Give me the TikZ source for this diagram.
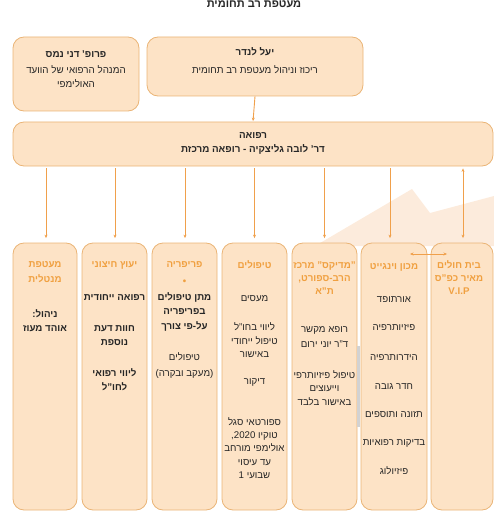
\documentclass[tikz,border=0pt]{standalone}
\usepackage{fontspec}
\setmainfont[Script=Hebrew]{Liberation Sans}
\TeXXeTstate=1
\usetikzlibrary{arrows.meta}
\definecolor{boxfill}{HTML}{FDE3C6}
\definecolor{boxline}{HTML}{EAB476}
\definecolor{arr}{HTML}{F0A04B}
\definecolor{head}{HTML}{F0A040}
\definecolor{txt}{HTML}{262626}
\definecolor{bgshape}{HTML}{FCEBDC}
\newcommand\lineat[5][]{\node[tx,#1] (#2) at (#3,#4) {#5};}
\tikzset{
  box/.style={draw=boxline, fill=boxfill, rounded corners=11pt, line width=0.8pt, inner sep=0pt},
  conn/.style={draw=arr, line width=0.9pt, -{Stealth[length=3.5pt,width=3pt]}},
  tx/.style={font=\fontsize{9.7}{11}\selectfont, text=txt, anchor=mid, inner sep=0pt},
  bf/.style={font=\fontsize{9.7}{11}\selectfont\bfseries},
  hd/.style={font=\fontsize{9.7}{11}\selectfont\bfseries, text=head},
  big/.style={font=\fontsize{9.8}{11}\selectfont},
  bigbf/.style={font=\fontsize{9.8}{11}\selectfont\bfseries},
}
\begin{document}
\begin{tikzpicture}[x=1pt,y=-1pt]
\useasboundingbox (0,0) rectangle (494,513);
% background shape
\fill[bgshape] (315,246) -- (412,189) -- (430,213) -- (494,196) -- (494,246) -- cycle;
% top boxes
\node[box, minimum width=126, minimum height=74] (nms) at (76,74) {};
\node[box, minimum width=216, minimum height=59] (landar) at (255,66.5) {};
\node[box, minimum width=480, minimum height=44] (refua) at (253,144) {};
% bottom boxes
\node[box, minimum width=64, minimum height=267] (b1) at (45,376.5) {};
\node[box, minimum width=65, minimum height=267] (b2) at (114.5,376.5) {};
\node[box, minimum width=65, minimum height=267] (b3) at (184.5,376.5) {};
\node[box, minimum width=65, minimum height=267] (b4) at (254.5,376.5) {};
\node[box, minimum width=65, minimum height=267] (b5) at (324.5,376.5) {};
\node[box, minimum width=66, minimum height=267] (b6) at (394,376.5) {};
\node[box, minimum width=62, minimum height=267] (b7) at (462,376.5) {};
\fill[gray!35] (356.5,346) rectangle (359.5,427);
% connectors
\draw[conn, shorten >=0.5pt] (landar.south) -- (refua.north);
\draw[conn, shorten <=2pt, shorten >=4.5pt] ([xshift=1pt]b1.north |- refua.south) -- ([xshift=1pt]b1.north);
\draw[conn, shorten <=2pt, shorten >=4.5pt] ([xshift=0.5pt]b2.north |- refua.south) -- ([xshift=0.5pt]b2.north);
\draw[conn, shorten <=2pt, shorten >=4.5pt] ([xshift=0.5pt]b3.north |- refua.south) -- ([xshift=0.5pt]b3.north);
\draw[conn, shorten <=2pt, shorten >=4.5pt] (b4.north |- refua.south) -- (b4.north);
\draw[conn, shorten <=2pt, shorten >=4.5pt] (b5.north |- refua.south) -- (b5.north);
\draw[conn, shorten <=2pt, shorten >=4.5pt] ([xshift=-4pt]b6.north |- refua.south) -- ([xshift=-4pt]b6.north);
\draw[conn, {Stealth[length=3.5pt,width=3pt]}-{Stealth[length=3.5pt,width=3pt]}, shorten <=2pt, shorten >=4.5pt] ([xshift=1pt]b7.north |- refua.south) -- ([xshift=1pt]b7.north);
\coordinate (ha) at (410,254);
\coordinate (hz) at (447,254);
\draw[conn, {Stealth[length=3.5pt,width=3pt]}-{Stealth[length=3.5pt,width=3pt]}] (ha) -- (hz);
% title
\node[tx, font=\fontsize{11}{12}\selectfont\bfseries] (title) at (254,4.5) {\beginR מעטפת רב תחומית\endR};
% top texts
\lineat[bigbf]{n1}{76}{55}{\beginR פרופ' דני נמס\endR}
\lineat[big]{n2}{76}{71}{\beginR המנהל הרפואי של הוועד\endR}
\lineat[big]{n3}{76}{85}{\beginR האולימפי\endR}
\lineat[bigbf]{l1}{255}{53}{\beginR יעל לנדר\endR}
\lineat[big]{l2}{255}{71}{\beginR ריכוז וניהול מעטפת רב תחומית\endR}
\lineat[bigbf]{r1}{253}{136}{\beginR רפואה\endR}
\lineat[bigbf]{r2}{253}{150}{\beginR דר' לובה גליצקיה - רופאה מרכזת\endR}
% b1
\lineat[hd]{a1}{45}{265}{\beginR מעטפת\endR}
\lineat[hd]{a2}{45}{280}{\beginR מנטלית\endR}
\lineat[bf]{a3}{45}{315}{\beginR ניהול:\endR}
\lineat[bf]{a4}{45}{329}{\beginR אוהד מעוז\endR}
% b2
\lineat[hd]{c1}{114.5}{265}{\beginR יעוץ חיצוני\endR}
\lineat[bf]{c2}{114.5}{298}{\beginR רפואה ייחודית\endR}
\lineat[bf]{c3}{114.5}{329}{\beginR חוות דעת\endR}
\lineat[bf]{c4}{114.5}{343}{\beginR נוספת\endR}
\lineat[bf]{c5}{114.5}{374}{\beginR ליווי רפואי\endR}
\lineat[bf]{c6}{114.5}{388}{\beginR לחו"ל\endR}
% b3
\lineat[hd]{d1}{184.5}{265}{\beginR פריפריה\endR}
\lineat[hd]{d2}{184.5}{282}{•}
\lineat[bf]{d3}{184.5}{298}{\beginR מתן טיפולים\endR}
\lineat[bf]{d4}{184.5}{312}{\beginR בפריפריה\endR}
\lineat[bf]{d5}{184.5}{327}{\beginR על-פי צורך\endR}
\lineat{d6}{184.5}{358}{\beginR טיפולים\endR}
\lineat{d7}{184.5}{374}{\beginR (מעקב ובקרה)\endR}
% b4
\lineat[hd]{e1}{254.5}{266}{\beginR טיפולים\endR}
\lineat{e2}{254.5}{299}{\beginR מעסים\endR}
\lineat{e3}{254.5}{328}{\beginR ליווי בחו"ל\endR}
\lineat{e4}{254.5}{342}{\beginR טיפול ייחודי\endR}
\lineat{e5}{254.5}{355}{\beginR באישור\endR}
\lineat{e6}{254.5}{382}{\beginR דיקור\endR}
\lineat{e7}{254.5}{423}{\beginR ספורטאי סגל\endR}
\lineat{e8}{254.5}{436}{\beginR טוקיו \beginL2020\endL{},\endR}
\lineat{e9}{254.5}{449}{\beginR אולימפי מורחב\endR}
\lineat{e10}{254.5}{463}{\beginR עד עיסוי\endR}
\lineat{e11}{254.5}{476}{\beginR שבועי 1\endR}
% b5
\lineat[hd]{f1}{324.5}{266}{\beginR "מדיקס" מרכז\endR}
\lineat[hd]{f2}{324.5}{279}{\beginR הרב-ספורט,\endR}
\lineat[hd]{f3}{324.5}{292}{\beginR ת"א\endR}
\lineat{f4}{324.5}{330}{\beginR רופא מקשר\endR}
\lineat{f5}{324.5}{345}{\beginR ד"ר יוני ירום\endR}
\lineat{f6}{324.5}{376}{\beginR טיפול פיזיותרפי\endR}
\lineat{f7}{324.5}{389}{\beginR וייעוצים\endR}
\lineat{f8}{324.5}{403}{\beginR באישור בלבד\endR}
% b6
\lineat[hd]{g1}{394}{267}{\beginR מכון וינגייט\endR}
\lineat{g2}{394}{300}{\beginR אורתופד\endR}
\lineat{g3}{394}{328}{\beginR פיזיותרפיה\endR}
\lineat{g4}{394}{358}{\beginR הידרותרפיה\endR}
\lineat{g5}{394}{387}{\beginR חדר גובה\endR}
\lineat{g6}{394}{415}{\beginR תזונה ותוספים\endR}
\lineat{g7}{394}{443}{\beginR בדיקות רפואיות\endR}
\lineat{g8}{394}{472}{\beginR פיזיולוג\endR}
% b7
\lineat[hd]{h1}{459}{266}{\beginR בית חולים\endR}
\lineat[hd]{h2}{459}{279}{\beginR מאיר כפ"ס\endR}
\node[tx, hd] (h3) at (459,292) {V.I.P};
\end{tikzpicture}
\end{document}
